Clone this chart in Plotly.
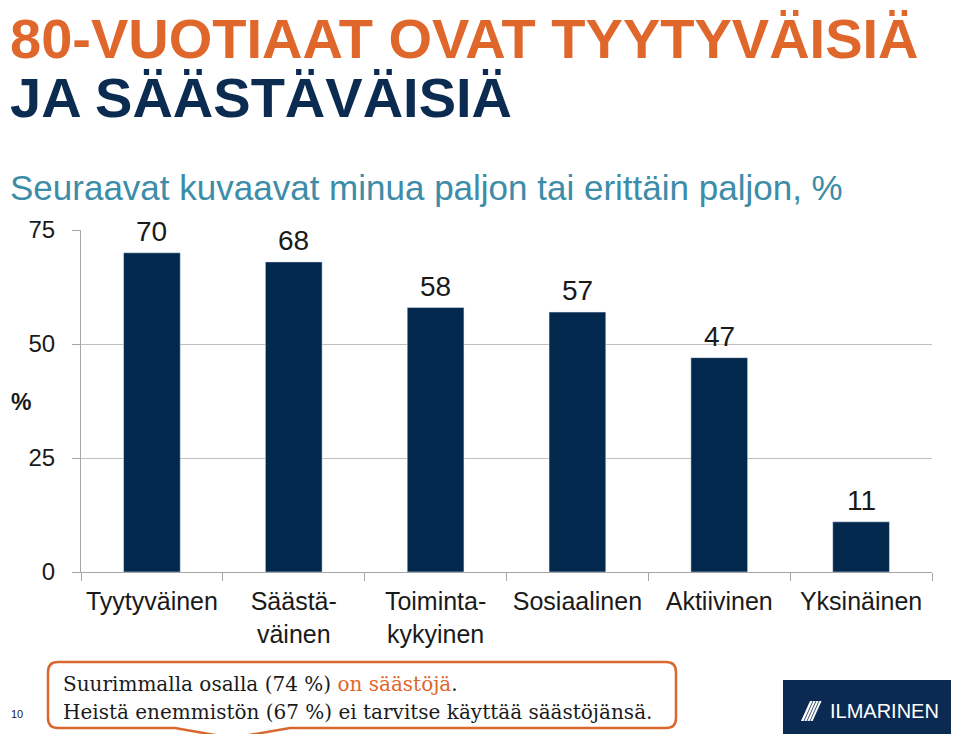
import plotly.graph_objects as go

categories = ["Tyytyväinen", "Säästä-<br>väinen", "Toiminta-<br>kykyinen", "Sosiaalinen", "Aktiivinen", "Yksinäinen"]
values = [70, 68, 58, 57, 47, 11]
y_ticks = [0, 25, 50, 75]

# page body has an 8px margin; design in page coordinates and convert
OFF = 8
W, H = 959 - 2 * OFF, 742 - 2 * OFF
L = 81 - OFF
R = W - (932 - OFF)
T = 230 - OFF
B = H - (572 - OFF)
PW, PH = W - L - R, H - T - B

def px(x):
    return (x - OFF - L) / PW

def py(y):
    return (H - B - (y - OFF)) / PH

NAVY = "#03284d"
ORANGE = "#e0672b"
TEXT = "#1a1a1a"
SANS = "Liberation Sans, Arial"

fig = go.Figure(go.Bar(
    x=categories, y=values, marker_color=NAVY, width=0.4,
    hoverinfo="skip",
))

for c, v in zip(categories, values):
    fig.add_annotation(x=c, y=v, text=str(v), showarrow=False, yanchor="bottom",
                       yshift=4, font=dict(size=28, color=TEXT, family=SANS))

fig.update_layout(
    width=W, height=H,
    margin=dict(l=L, r=R, t=T, b=B),
    plot_bgcolor="white", paper_bgcolor="white",
    showlegend=False,
    font=dict(family=SANS, color=TEXT),
    xaxis=dict(showline=True, linecolor="#a6a6a6", linewidth=1,
               ticks="outside", tickson="boundaries", ticklen=8, tickcolor="#a6a6a6",
               tickfont=dict(size=25, color=TEXT), showgrid=False, ticklabelstandoff=7),
    yaxis=dict(range=[0, 75], tickvals=y_ticks, showline=True, linecolor="#a6a6a6",
               ticks="outside", ticklen=8, tickcolor="#a6a6a6", showgrid=True,
               gridcolor="#bfbfbf", gridwidth=1, zeroline=False,
               tickfont=dict(size=24, color=TEXT), ticklabelstandoff=12),
)

# Titles
fig.add_annotation(xref="paper", yref="paper", x=px(8), y=py(38), xanchor="left", yanchor="middle",
                   text="<b>80-VUOTIAAT OVAT TYYTYVÄISIÄ</b>", showarrow=False,
                   font=dict(size=56, color=ORANGE, family=SANS))
fig.add_annotation(xref="paper", yref="paper", x=px(8), y=py(97), xanchor="left", yanchor="middle",
                   text="<b>JA SÄÄSTÄVÄISIÄ</b>", showarrow=False,
                   font=dict(size=56, color="#0b2b50", family=SANS))
fig.add_annotation(xref="paper", yref="paper", x=px(8), y=py(187), xanchor="left", yanchor="middle",
                   text="Seuraavat kuvaavat minua paljon tai erittäin paljon, %", showarrow=False,
                   font=dict(size=35, color="#3d8ca8", family=SANS))

# % axis label
fig.add_annotation(xref="paper", yref="paper", x=px(9), y=py(402), xanchor="left", yanchor="middle",
                   text="<b>%</b>", showarrow=False, font=dict(size=23, color=TEXT))

# Callout box with pointer
x0, x1, y0, y1, r = 48, 676, 662, 728, 10
pb0, pb1, ax_, ay_ = 175, 290, 232, 738
pts = [
    f"M {px(x0 + r)},{py(y0)}",
    f"L {px(x1 - r)},{py(y0)}",
    f"Q {px(x1)},{py(y0)} {px(x1)},{py(y0 + r)}",
    f"L {px(x1)},{py(y1 - r)}",
    f"Q {px(x1)},{py(y1)} {px(x1 - r)},{py(y1)}",
    f"L {px(pb1)},{py(y1)}",
    f"L {px(ax_)},{py(ay_)}",
    f"L {px(pb0)},{py(y1)}",
    f"L {px(x0 + r)},{py(y1)}",
    f"Q {px(x0)},{py(y1)} {px(x0)},{py(y1 - r)}",
    f"L {px(x0)},{py(y0 + r)}",
    f"Q {px(x0)},{py(y0)} {px(x0 + r)},{py(y0)}",
    "Z",
]
fig.add_shape(type="path", xref="paper", yref="paper", path=" ".join(pts),
              line=dict(color="#d9682e", width=2.5), fillcolor="white", layer="above")

SERIF = "DejaVu Serif, Liberation Serif"
fig.add_annotation(xref="paper", yref="paper", x=px(61), y=py(684), xanchor="left", yanchor="middle",
                   text=f"Suurimmalla osalla (74 %) <span style='color:{ORANGE}'>on säästöjä</span>.",
                   showarrow=False, font=dict(size=20, color=TEXT, family=SERIF))
fig.add_annotation(xref="paper", yref="paper", x=px(61), y=py(712), xanchor="left", yanchor="middle",
                   text="Heistä enemmistön (67 %) ei tarvitse käyttää säästöjänsä.",
                   showarrow=False, font=dict(size=20, color=TEXT, family=SERIF))

# Slide number
fig.add_annotation(xref="paper", yref="paper", x=px(9), y=py(714), xanchor="left", yanchor="middle",
                   text="10", showarrow=False, font=dict(size=11, color=TEXT))

# Logo
fig.add_shape(type="rect", xref="paper", yref="paper", x0=px(783), x1=px(959), y0=py(680), y1=py(742),
              fillcolor="#0a2a52", line=dict(width=0), layer="above")
fig.add_shape(type="path", xref="paper", yref="paper",
              path=f"M {px(801)},{py(721)} L {px(810)},{py(701)} L {px(822)},{py(701)} L {px(813)},{py(721)} Z",
              fillcolor="white", line=dict(width=0), layer="above")
for k in range(4):
    xs = 804 + k * 3
    fig.add_shape(type="line", xref="paper", yref="paper",
                  x0=px(xs), y0=py(721), x1=px(xs + 9), y1=py(701),
                  line=dict(color="#0a2a52", width=0.8), layer="above")
fig.add_annotation(xref="paper", yref="paper", x=px(828), y=py(711), xanchor="left", yanchor="middle",
                   text="ILMARINEN", showarrow=False,
                   font=dict(size=20, color="white", family=SANS))

fig.write_html("out.html")
